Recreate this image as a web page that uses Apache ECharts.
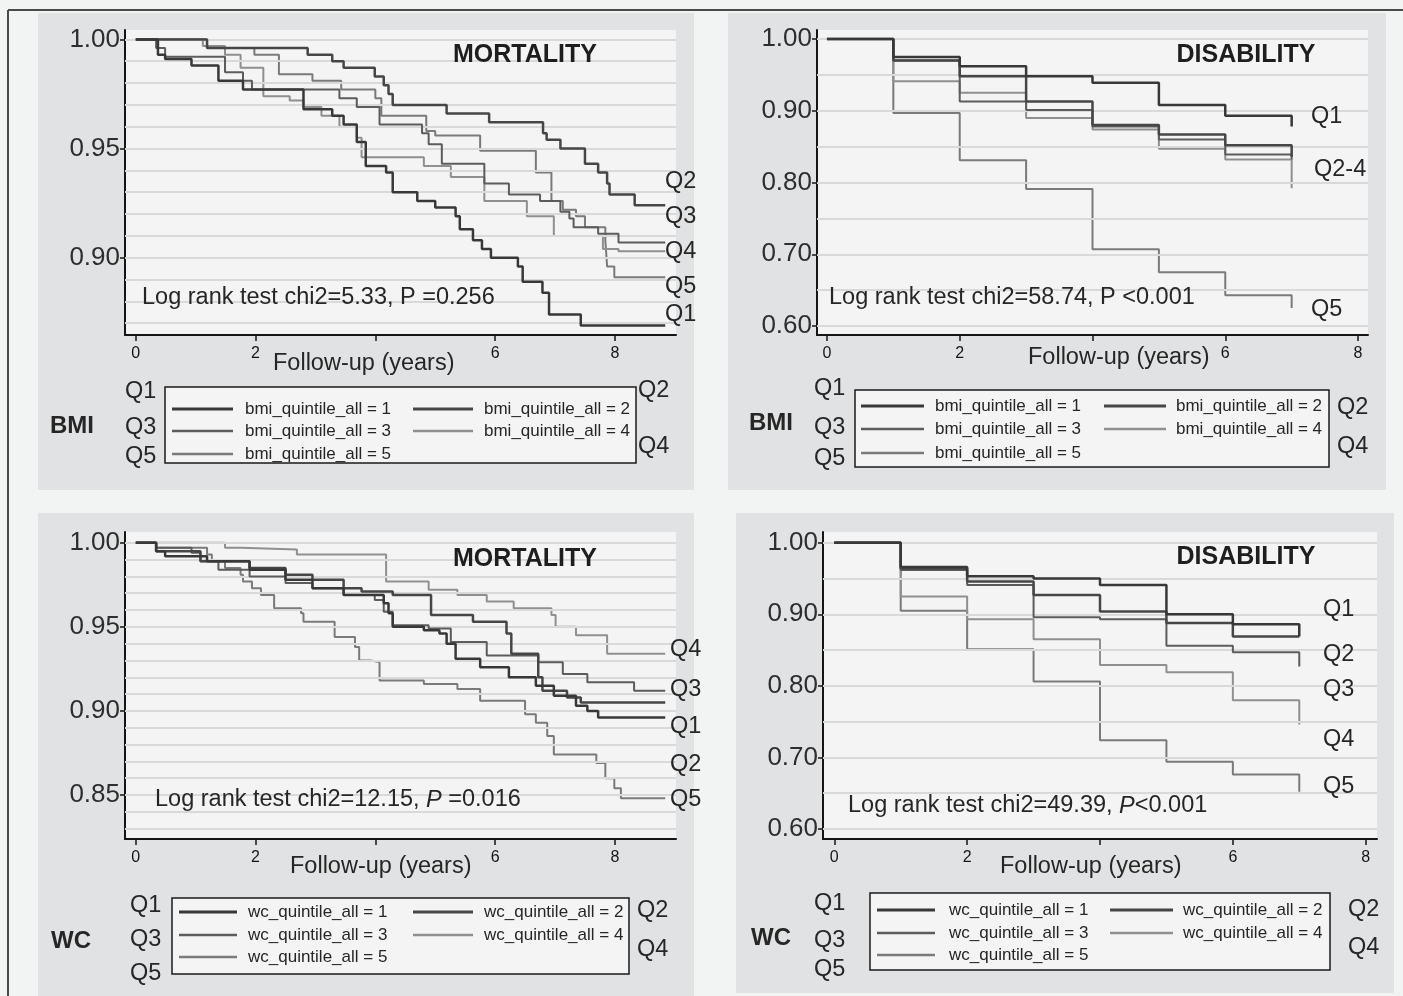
<!DOCTYPE html>
<html>
<head>
<meta charset="utf-8">
<script src="https://cdn.jsdelivr.net/npm/echarts@6/dist/echarts.min.js"></script>
<style>
html, body { margin: 0; padding: 0; background: #f2f3f3; }
#main { width: 1403px; height: 996px; }
</style>
</head>
<body>
<div id="main"></div>
<script>
// ---------------- data ----------------
// x = follow-up years, y = survival proportion (Kaplan-Meier steps)
var bmiMortQ1 = [[0,1],[0.37,0.993],[0.49,0.991],[0.93,0.988],[1.38,0.981],[1.79,0.977],[2.8,0.968],[3.28,0.965],[3.47,0.961],[3.69,0.953],[3.84,0.942],[4.18,0.939],[4.29,0.930],[4.7,0.926],[5.0,0.923],[5.34,0.919],[5.41,0.913],[5.63,0.908],[5.78,0.904],[5.93,0.900],[6.38,0.896],[6.46,0.889],[6.79,0.884],[6.9,0.874],[7.43,0.869],[8.84,0.869]];
var bmiMortQ2 = [[0,1],[1.19,0.996],[2.87,0.993],[3.28,0.990],[3.47,0.987],[3.99,0.983],[4.14,0.979],[4.22,0.975],[4.29,0.970],[5.19,0.966],[5.9,0.962],[6.8,0.957],[6.86,0.954],[7.09,0.950],[7.5,0.943],[7.72,0.939],[7.87,0.934],[7.91,0.929],[8.33,0.924],[8.84,0.924]];
var bmiMortQ3 = [[0,1],[0.34,0.996],[0.49,0.992],[1.49,0.985],[1.79,0.981],[1.94,0.977],[3.4,0.973],[3.69,0.969],[4.07,0.961],[4.78,0.957],[4.89,0.952],[5.11,0.943],[5.82,0.934],[6.23,0.929],[6.75,0.926],[7.09,0.921],[7.24,0.918],[7.31,0.914],[7.72,0.911],[8.06,0.907],[8.84,0.907]];
var bmiMortQ4 = [[0,1],[1.12,0.997],[1.49,0.993],[1.75,0.987],[2.13,0.974],[2.57,0.972],[2.8,0.969],[3.1,0.965],[3.4,0.960],[3.69,0.955],[3.77,0.946],[4.81,0.942],[5.26,0.937],[5.82,0.926],[6.53,0.919],[6.98,0.910],[7.8,0.904],[8.06,0.903],[8.84,0.903]];
var bmiMortQ5 = [[0,1],[1.19,0.996],[1.98,0.993],[2.39,0.984],[2.95,0.981],[3.43,0.977],[4.0,0.973],[4.1,0.965],[4.85,0.958],[5.0,0.956],[5.75,0.949],[6.68,0.939],[6.94,0.926],[7.13,0.922],[7.35,0.919],[7.5,0.914],[7.84,0.908],[7.87,0.896],[7.99,0.891],[8.84,0.891]];

var bmiDisQ1 = [[0,1],[1,0.975],[2,0.962],[3,0.948],[4,0.939],[5,0.908],[6,0.893],[7,0.878]];
var bmiDisQ2 = [[0,1],[1,0.970],[2,0.948],[3,0.913],[4,0.880],[5,0.867],[6,0.852],[7,0.836]];
var bmiDisQ3 = [[0,1],[1,0.970],[2,0.913],[3,0.901],[4,0.878],[5,0.860],[6,0.839],[7,0.832]];
var bmiDisQ4 = [[0,1],[1,0.941],[2,0.925],[3,0.890],[4,0.874],[5,0.847],[6,0.832],[7,0.792]];
var bmiDisQ5 = [[0,1],[1,0.897],[2,0.831],[3,0.791],[4,0.707],[5,0.675],[6,0.643],[7,0.625]];

var wcMortQ1 = [[0,1],[0.34,0.995],[0.49,0.992],[1.19,0.989],[1.9,0.984],[2.5,0.978],[2.95,0.973],[3.47,0.969],[4.14,0.964],[4.22,0.958],[4.29,0.950],[4.81,0.948],[5.07,0.946],[5.19,0.940],[5.34,0.931],[5.75,0.926],[6.23,0.920],[6.68,0.915],[6.98,0.909],[7.35,0.903],[7.54,0.900],[7.72,0.896],[8.84,0.896]];
var wcMortQ2 = [[0,1],[0.34,0.995],[1.08,0.989],[1.9,0.985],[2.5,0.981],[2.95,0.978],[3.47,0.973],[3.77,0.971],[4.29,0.969],[4.93,0.957],[5.63,0.953],[6.19,0.946],[6.27,0.934],[6.72,0.920],[6.79,0.912],[7.2,0.908],[7.43,0.905],[8.84,0.905]];
var wcMortQ3 = [[0,1],[0.34,0.997],[0.93,0.994],[1.08,0.989],[1.38,0.984],[1.9,0.980],[2.5,0.976],[2.95,0.973],[3.47,0.969],[3.99,0.966],[4.14,0.959],[4.29,0.951],[4.89,0.949],[5.26,0.941],[5.86,0.933],[6.72,0.929],[7.13,0.922],[7.54,0.917],[8.32,0.912],[8.84,0.912]];
var wcMortQ4 = [[0,1],[1.49,0.997],[1.75,0.996],[2.69,0.993],[4.18,0.977],[4.89,0.972],[5.37,0.969],[5.86,0.965],[6.31,0.961],[6.94,0.957],[7.01,0.950],[7.35,0.945],[7.87,0.934],[8.84,0.934]];
var wcMortQ5 = [[0,1],[0.34,0.997],[1.19,0.993],[1.27,0.989],[1.49,0.985],[1.75,0.981],[1.79,0.977],[1.94,0.973],[2.09,0.969],[2.31,0.961],[2.76,0.958],[2.8,0.953],[3.32,0.944],[3.66,0.938],[3.73,0.930],[3.92,0.929],[4.07,0.918],[4.81,0.916],[5.37,0.913],[5.75,0.906],[6.5,0.898],[6.68,0.893],[6.87,0.885],[6.98,0.874],[7.69,0.869],[7.84,0.860],[7.99,0.854],[8.1,0.848],[8.84,0.848]];

var wcDisQ1 = [[0,1],[1,0.966],[2,0.953],[3,0.950],[4,0.941],[5,0.900],[6,0.886],[7,0.869]];
var wcDisQ2 = [[0,1],[1,0.964],[2,0.946],[3,0.927],[4,0.904],[5,0.888],[6,0.869],[7,0.869]];
var wcDisQ3 = [[0,1],[1,0.962],[2,0.941],[3,0.896],[4,0.893],[5,0.856],[6,0.847],[7,0.827]];
var wcDisQ4 = [[0,1],[1,0.925],[2,0.893],[3,0.865],[4,0.829],[5,0.819],[6,0.780],[7,0.746]];
var wcDisQ5 = [[0,1],[1,0.905],[2,0.851],[3,0.806],[4,0.724],[5,0.694],[6,0.676],[7,0.652]];

// axis ticks / labels
var xTickYears = [0, 2, 4, 6, 8];
var xLabelYears = [0, 2, 6, 8];
var yLabelsBmiMort = [0.90, 0.95, 1.00];
var yLabelsWcMort = [0.85, 0.90, 0.95, 1.00];
var yLabelsDis = [0.60, 0.70, 0.80, 0.90, 1.00];

// horizontal reference lines
var gridBmiMort = [0.87, 0.88, 0.89, 0.90, 0.91, 0.92, 0.93, 0.94, 0.95, 0.96, 0.97, 0.98, 0.99, 1.00];
var gridWcMort = [0.83, 0.84, 0.85, 0.86, 0.87, 0.88, 0.89, 0.90, 0.91, 0.92, 0.93, 0.94, 0.95, 0.96, 0.97, 0.98, 0.99, 1.00];
var gridDis = [0.60, 0.65, 0.70, 0.75, 0.80, 0.85, 0.90, 0.95, 1.00];

var bmiLegend = ['bmi_quintile_all = 1', 'bmi_quintile_all = 2', 'bmi_quintile_all = 3', 'bmi_quintile_all = 4', 'bmi_quintile_all = 5'];
var wcLegend = ['wc_quintile_all = 1', 'wc_quintile_all = 2', 'wc_quintile_all = 3', 'wc_quintile_all = 4', 'wc_quintile_all = 5'];

// ---------------- styling ----------------
var FONT = 'Liberation Sans, Arial, sans-serif';
var lineColors = ['#383838', '#464646', '#5c5c5c', '#8f8f8f', '#7a7a7a'];
var lineWidths = [2.5, 2.5, 2, 2, 2];

var panels = [
    {grid: {left: 125, top: 30, width: 551, height: 305}, xMin: -0.18, xMax: 9.02, yMin: 0.8646, yMax: 1.0043,
        yLabels: yLabelsBmiMort, gridLines: gridBmiMort, curves: [bmiMortQ1, bmiMortQ2, bmiMortQ3, bmiMortQ4, bmiMortQ5]},
    {grid: {left: 817, top: 30, width: 551, height: 305}, xMin: -0.15, xMax: 8.15, yMin: 0.5875, yMax: 1.0125,
        yLabels: yLabelsDis, gridLines: gridDis, curves: [bmiDisQ1, bmiDisQ2, bmiDisQ3, bmiDisQ4, bmiDisQ5]},
    {grid: {left: 125, top: 532, width: 551, height: 307}, xMin: -0.18, xMax: 9.02, yMin: 0.8238, yMax: 1.0064,
        yLabels: yLabelsWcMort, gridLines: gridWcMort, curves: [wcMortQ1, wcMortQ2, wcMortQ3, wcMortQ4, wcMortQ5]},
    {grid: {left: 823, top: 532, width: 554, height: 307}, xMin: -0.17, xMax: 8.17, yMin: 0.586, yMax: 1.015,
        yLabels: yLabelsDis, gridLines: gridDis, curves: [wcDisQ1, wcDisQ2, wcDisQ3, wcDisQ4, wcDisQ5]}
];

var grids = [], xAxes = [], yAxes = [], series = [];

for (var i = 0; i < panels.length; i++) {
    var p = panels[i];
    grids.push({left: p.grid.left, top: p.grid.top, width: p.grid.width, height: p.grid.height,
        show: true, backgroundColor: '#f3f4f3', borderWidth: 0, containLabel: false});

    xAxes.push({
        gridIndex: i, type: 'value', min: p.xMin, max: p.xMax,
        axisLine: {show: true, onZero: false, lineStyle: {color: '#151515', width: 2}},
        axisTick: {show: true, customValues: xTickYears, length: 6, lineStyle: {color: '#151515', width: 1.5}},
        axisLabel: {show: true, customValues: xLabelYears, margin: 11, fontSize: 16, color: '#151515',
            fontFamily: FONT, formatter: function (v) { return String(Math.round(v)); }},
        splitLine: {show: false}
    });
    yAxes.push({
        gridIndex: i, type: 'value', min: p.yMin, max: p.yMax,
        axisLine: {show: true, onZero: false, lineStyle: {color: '#151515', width: 2}},
        axisTick: {show: true, customValues: p.yLabels, length: 5, lineStyle: {color: '#151515', width: 1.5}},
        axisLabel: {show: true, customValues: p.yLabels, margin: 5, fontSize: 26, color: '#2e2e2e',
            fontFamily: FONT, formatter: function (v) { return v.toFixed(2); }},
        splitLine: {show: false}
    });

    // reference lines
    series.push({
        type: 'line', xAxisIndex: i, yAxisIndex: i, data: [[0, 1]], z: 1, silent: true,
        showSymbol: false, symbol: 'none', lineStyle: {opacity: 0},
        markLine: {
            silent: true, symbol: ['none', 'none'], label: {show: false}, animation: false,
            lineStyle: {color: '#d8d9d9', width: 2, type: 'solid'},
            data: p.gridLines.map(function (v) { return {yAxis: v}; })
        }
    });

    for (var k = 0; k < p.curves.length; k++) {
        series.push({
            type: 'line', xAxisIndex: i, yAxisIndex: i, step: 'end', data: p.curves[k], z: 3 + (4 - k),
            showSymbol: false, symbol: 'none', silent: true,
            lineStyle: {color: lineColors[k], width: lineWidths[k]}
        });
    }
}

// ---------------- decorations ----------------
function txt(x, y, s, size, extra) {
    var st = {text: s, x: x, y: y, fontSize: size, fontFamily: FONT, fill: '#262626',
        textAlign: 'left', align: 'left', textVerticalAlign: 'middle', verticalAlign: 'middle'};
    for (var key in (extra || {})) st[key] = extra[key];
    return {type: 'text', z: 100, silent: true, style: st};
}

function rect(x, y, w, h, fill, stroke, z) {
    return {type: 'rect', z: z, silent: true, shape: {x: x, y: y, width: w, height: h},
        style: {fill: fill, stroke: stroke || null, lineWidth: stroke ? 1.5 : 0}};
}

function seg(x1, y1, x2, y2, color, width, z) {
    return {type: 'line', z: z, silent: true, shape: {x1: x1, y1: y1, x2: x2, y2: y2},
        style: {stroke: color, lineWidth: width}};
}

// legend box with two columns
function legendBox(box, rows, c1, c2, labels) {
    var out = [rect(box[0], box[1], box[2], box[3], '#f3f4f3', '#1a1a1a', 50)];
    var cells = [[0, 0], [0, 1], [1, 0], [1, 1], [2, 0]];
    for (var n = 0; n < labels.length; n++) {
        var r = rows[cells[n][0]];
        var c = cells[n][1] === 0 ? c1 : c2;
        out.push(seg(c[0], r, c[1], r, lineColors[n], lineWidths[n] + 0.5, 60));
        out.push(txt(c[2], r, labels[n], 17));
    }
    return out;
}

var g = [];
// panel backgrounds
g.push(rect(38, 13, 656, 477, '#e1e2e3', null, -20));
g.push(rect(728, 13, 658, 477, '#e1e2e3', null, -20));
g.push(rect(38, 513, 656, 483, '#e1e2e3', null, -20));
g.push(rect(736, 513, 658, 480, '#e1e2e3', null, -20));
// outer frame
g.push(seg(8, 10, 1403, 10, '#4a4a4a', 2, -10));
g.push(seg(8, 10, 8, 996, '#4a4a4a', 2, -10));

// titles
g.push(txt(525, 55, 'MORTALITY', 25, {fontWeight: 'bold', textAlign: 'center', align: 'center', fill: '#1e1e1e'}));
g.push(txt(1246, 55, 'DISABILITY', 25, {fontWeight: 'bold', textAlign: 'center', align: 'center', fill: '#1e1e1e'}));
g.push(txt(525, 559, 'MORTALITY', 25, {fontWeight: 'bold', textAlign: 'center', align: 'center', fill: '#1e1e1e'}));
g.push(txt(1246, 557, 'DISABILITY', 25, {fontWeight: 'bold', textAlign: 'center', align: 'center', fill: '#1e1e1e'}));

// log rank tests
var italicP = {p: {fontStyle: 'italic', fontSize: 23.5, fontFamily: FONT, fill: '#262626'}};
g.push(txt(142, 298, 'Log rank test chi2=5.33, P =0.256', 23.5));
g.push(txt(829, 298, 'Log rank test chi2=58.74, P <0.001', 23.5));
g.push(txt(155, 800, 'Log rank test chi2=12.15, {p|P} =0.016', 23.5, {rich: italicP}));
g.push(txt(848, 806, 'Log rank test chi2=49.39, {p|P}<0.001', 23.5, {rich: italicP}));

// axis titles
g.push(txt(273, 364, 'Follow-up (years)', 23.5));
g.push(txt(1028, 358, 'Follow-up (years)', 23.5));
g.push(txt(290, 867, 'Follow-up (years)', 23.5));
g.push(txt(1000, 867, 'Follow-up (years)', 23.5));

// curve end labels
g.push(txt(665, 182, 'Q2', 23.5), txt(665, 217, 'Q3', 23.5), txt(665, 252, 'Q4', 23.5), txt(665, 287, 'Q5', 23.5), txt(665, 315, 'Q1', 23.5));
g.push(txt(1311, 117, 'Q1', 23.5), txt(1314, 170, 'Q2-4', 23.5), txt(1311, 310, 'Q5', 23.5));
g.push(txt(670, 650, 'Q4', 23.5), txt(670, 690, 'Q3', 23.5), txt(670, 727, 'Q1', 23.5), txt(670, 765, 'Q2', 23.5), txt(670, 800, 'Q5', 23.5));
g.push(txt(1323, 610, 'Q1', 23.5), txt(1323, 655, 'Q2', 23.5), txt(1323, 690, 'Q3', 23.5), txt(1323, 740, 'Q4', 23.5), txt(1323, 787, 'Q5', 23.5));

// legend side labels
g.push(txt(50, 426, 'BMI', 24, {fontWeight: 'bold'}));
g.push(txt(125, 392, 'Q1', 23.5), txt(125, 428, 'Q3', 23.5), txt(125, 457, 'Q5', 23.5), txt(638, 391, 'Q2', 23.5), txt(638, 447, 'Q4', 23.5));
g.push(txt(749, 423, 'BMI', 24, {fontWeight: 'bold'}));
g.push(txt(814, 389, 'Q1', 23.5), txt(814, 428, 'Q3', 23.5), txt(814, 459, 'Q5', 23.5), txt(1337, 408, 'Q2', 23.5), txt(1337, 447, 'Q4', 23.5));
g.push(txt(51, 941, 'WC', 24, {fontWeight: 'bold'}));
g.push(txt(130, 906, 'Q1', 23.5), txt(130, 940, 'Q3', 23.5), txt(130, 974, 'Q5', 23.5), txt(637, 911, 'Q2', 23.5), txt(637, 950, 'Q4', 23.5));
g.push(txt(751, 938, 'WC', 24, {fontWeight: 'bold'}));
g.push(txt(814, 904, 'Q1', 23.5), txt(814, 941, 'Q3', 23.5), txt(814, 970, 'Q5', 23.5), txt(1348, 910, 'Q2', 23.5), txt(1348, 948, 'Q4', 23.5));

// legends
g = g.concat(legendBox([165, 387, 471, 76], [409, 431, 454], [172, 233, 245], [413, 473, 484], bmiLegend));
g = g.concat(legendBox([855, 390, 474, 77], [406, 429, 453], [861, 924, 935], [1104, 1166, 1176], bmiLegend));
g = g.concat(legendBox([172, 898, 457, 76], [912, 935, 957], [179, 237, 248], [413, 473, 484], wcLegend));
g = g.concat(legendBox([870, 893, 460, 77], [910, 933, 955], [877, 935, 949], [1110, 1173, 1183], wcLegend));

var chart = echarts.init(document.getElementById('main'), null, {renderer: 'canvas'});
chart.setOption({
    backgroundColor: '#f2f3f3',
    animation: false,
    grid: grids,
    xAxis: xAxes,
    yAxis: yAxes,
    series: series,
    graphic: {elements: g}
});
</script>
</body>
</html>
